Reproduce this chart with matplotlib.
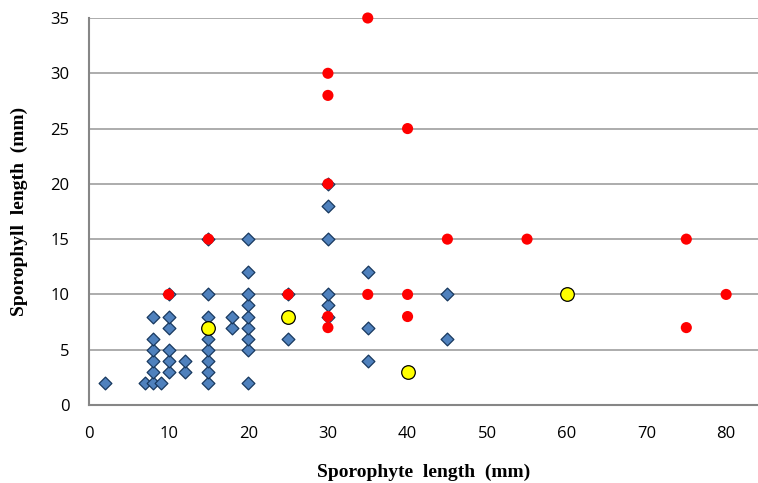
import matplotlib.pyplot as plt

# serie 1: rombi blu
blue_x = [2, 7, 8, 9, 8, 8, 8, 8, 8,
          10, 10, 10, 10, 10, 10,
          12, 12,
          15, 15, 15, 15, 15, 15, 15, 15,
          18, 18,
          20, 20, 20, 20, 20, 20, 20, 20, 20,
          25, 25,
          30, 30, 30, 30, 30, 30,
          35, 35, 35,
          45, 45]
blue_y = [2, 2, 2, 2, 3, 4, 5, 6, 8,
          3, 4, 5, 7, 8, 10,
          3, 4,
          2, 3, 4, 5, 6, 8, 10, 15,
          7, 8,
          2, 5, 6, 7, 8, 9, 10, 12, 15,
          6, 10,
          8, 9, 10, 15, 18, 20,
          4, 7, 12,
          6, 10]

# serie 2: cerchi rossi
red_x = [10, 15, 25, 30, 30, 30, 30, 30, 35, 35, 40, 40, 40, 45, 55, 75, 75, 80]
red_y = [10, 15, 10, 20, 30, 28, 8, 7, 35, 10, 25, 10, 8, 15, 15, 15, 7, 10]

# serie 3: cerchi gialli
yellow_x = [15, 25, 40, 60]
yellow_y = [7, 8, 3, 10]

fig = plt.figure(figsize=(7.58, 4.83), dpi=100)
ax = fig.add_axes([89/758, 78/483, 669/758, 387/483])

ax.scatter(blue_x, blue_y, marker='D', s=6.5**2, facecolor='#4f81bd',
           edgecolor='#17375e', linewidth=0.9, zorder=3, clip_on=False)
ax.scatter(red_x, red_y, marker='o', s=8**2, facecolor='#ff0000',
           edgecolor='none', zorder=4, clip_on=False)
ax.scatter(yellow_x, yellow_y, marker='o', s=9.8**2, facecolor='#ffff00',
           edgecolor='black', linewidth=0.9, zorder=5, clip_on=False)

ax.set_xlim(0, 84)
ax.set_ylim(0, 35)
ax.set_xticks(range(0, 81, 10))
ax.set_yticks(range(0, 36, 5))
ax.yaxis.grid(True, color='#a6a6a6', linewidth=1.3)
ax.set_axisbelow(True)
for s in ['top', 'right']:
    ax.spines[s].set_visible(False)
for s in ['left', 'bottom']:
    ax.spines[s].set_color('#868686')
    ax.spines[s].set_linewidth(1.5)
ax.tick_params(length=0, labelsize=12)
ax.tick_params(axis='x', pad=15)
ax.tick_params(axis='y', pad=14)
for lab in ax.get_xticklabels() + ax.get_yticklabels():
    lab.set_family('Open Sans')

ax.set_xlabel('Sporophyte  length  (mm)', family='Liberation Serif',
              fontweight='bold', fontsize=14, labelpad=16)
ax.set_ylabel('Sporophyll  length  (mm)', family='Liberation Serif',
              fontweight='bold', fontsize=14, labelpad=16)

fig.savefig('out.png', dpi=100)
